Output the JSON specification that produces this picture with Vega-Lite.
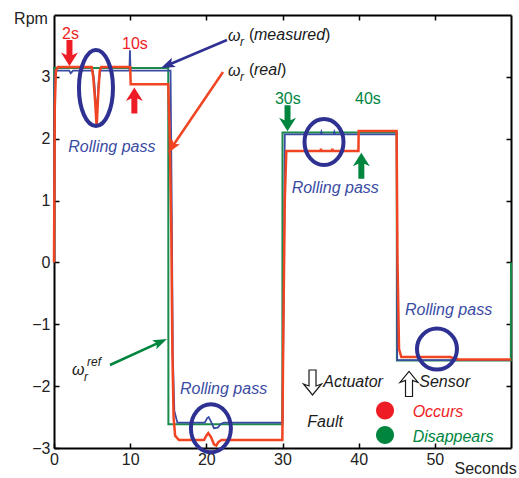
{
  "$schema": "https://vega.github.io/schema/vega-lite/v6.json",
  "width": 457,
  "height": 433,
  "autosize": {"type": "none"},
  "padding": {"left": 54, "top": 15, "right": 8, "bottom": 30},
  "config": {
    "view": {"stroke": null},
    "font": "Liberation Sans",
    "axis": {
      "grid": false,
      "domainColor": "#000",
      "domainWidth": 2,
      "tickColor": "#000",
      "tickWidth": 1.5,
      "tickSize": -5,
      "labelFont": "Liberation Sans",
      "labelFontSize": 16,
      "labelColor": "#222",
      "labelFlush": false,
      "labelOverlap": false,
      "titleFont": "Liberation Sans",
      "titleFontSize": 16,
      "titleFontWeight": "normal",
      "titleColor": "#222"
    }
  },
  "datasets": {
    "lines": [
      {"c":"ref","t":0,"v":0},{"c":"ref","t":0.02,"v":3.145},{"c":"ref","t":15.0,"v":3.145},{"c":"ref","t":15.02,"v":-2.615},{"c":"ref","t":29.98,"v":-2.615},{"c":"ref","t":30.0,"v":2.10},{"c":"ref","t":45.0,"v":2.10},{"c":"ref","t":45.02,"v":-1.585},{"c":"ref","t":59.98,"v":-1.585},{"c":"ref","t":60,"v":0},
      {"c":"measured","t":0,"v":0},{"c":"measured","t":0.05,"v":2.9},{"c":"measured","t":0.15,"v":3.1},{"c":"measured","t":2.0,"v":3.1},{"c":"measured","t":2.2,"v":3.06},{"c":"measured","t":2.5,"v":3.1},{"c":"measured","t":5.1,"v":3.1},{"c":"measured","t":5.3,"v":2.9},{"c":"measured","t":5.6,"v":2.35},{"c":"measured","t":5.85,"v":2.9},{"c":"measured","t":6.1,"v":3.1},{"c":"measured","t":9.9,"v":3.1},{"c":"measured","t":9.97,"v":3.43},{"c":"measured","t":10.05,"v":3.1},{"c":"measured","t":15.3,"v":3.1},{"c":"measured","t":15.45,"v":1.0},{"c":"measured","t":15.6,"v":-1.5},{"c":"measured","t":15.8,"v":-2.4},{"c":"measured","t":16.2,"v":-2.59},{"c":"measured","t":19.8,"v":-2.59},{"c":"measured","t":20.1,"v":-2.52},{"c":"measured","t":20.3,"v":-2.5},{"c":"measured","t":20.6,"v":-2.57},{"c":"measured","t":21.0,"v":-2.68},{"c":"measured","t":21.5,"v":-2.67},{"c":"measured","t":21.9,"v":-2.61},{"c":"measured","t":22.3,"v":-2.59},{"c":"measured","t":30.0,"v":-2.59},{"c":"measured","t":30.2,"v":0},{"c":"measured","t":30.3,"v":2.07},{"c":"measured","t":35.0,"v":2.07},{"c":"measured","t":35.1,"v":2.11},{"c":"measured","t":35.2,"v":2.07},{"c":"measured","t":36.7,"v":2.07},{"c":"measured","t":36.8,"v":2.11},{"c":"measured","t":36.9,"v":2.07},{"c":"measured","t":45.0,"v":2.07},{"c":"measured","t":45.06,"v":-1.58},{"c":"measured","t":60,"v":-1.58},
      {"c":"real","t":0,"v":0},{"c":"real","t":0.1,"v":2.5},{"c":"real","t":0.25,"v":3.1},{"c":"real","t":0.5,"v":3.16},{"c":"real","t":4.95,"v":3.16},{"c":"real","t":5.15,"v":3.0},{"c":"real","t":5.4,"v":2.6},{"c":"real","t":5.6,"v":2.2},{"c":"real","t":5.8,"v":2.7},{"c":"real","t":6.0,"v":3.1},{"c":"real","t":6.2,"v":3.16},{"c":"real","t":10.0,"v":3.16},{"c":"real","t":10.07,"v":2.88},{"c":"real","t":15.0,"v":2.88},{"c":"real","t":15.2,"v":2.0},{"c":"real","t":15.4,"v":0.5},{"c":"real","t":15.55,"v":-1.5},{"c":"real","t":15.7,"v":-2.5},{"c":"real","t":15.9,"v":-2.8},{"c":"real","t":16.4,"v":-2.87},{"c":"real","t":19.7,"v":-2.87},{"c":"real","t":20.0,"v":-2.8},{"c":"real","t":20.25,"v":-2.76},{"c":"real","t":20.6,"v":-2.82},{"c":"real","t":21.0,"v":-2.94},{"c":"real","t":21.3,"v":-2.96},{"c":"real","t":21.6,"v":-2.9},{"c":"real","t":22.0,"v":-2.87},{"c":"real","t":29.98,"v":-2.87},{"c":"real","t":30.1,"v":-1.2},{"c":"real","t":30.3,"v":1.0},{"c":"real","t":30.5,"v":1.8},{"c":"real","t":35.0,"v":1.8},{"c":"real","t":35.05,"v":1.84},{"c":"real","t":35.1,"v":1.8},{"c":"real","t":36.5,"v":1.8},{"c":"real","t":36.55,"v":1.84},{"c":"real","t":36.6,"v":1.8},{"c":"real","t":39.97,"v":1.8},{"c":"real","t":40.0,"v":2.125},{"c":"real","t":44.98,"v":2.125},{"c":"real","t":45.1,"v":0},{"c":"real","t":45.3,"v":-1.4},{"c":"real","t":45.6,"v":-1.53},{"c":"real","t":52.0,"v":-1.53},{"c":"real","t":53.0,"v":-1.57},{"c":"real","t":60,"v":-1.57}
    ],
    "ptr": [
      {"c":"ring","t":22.71,"v":3.596,"t2":14.89,"v2":3.188},
      {"c":"real","t":22.19,"v":3.079,"t2":15.48,"v2":1.863},
      {"c":"disappears","t":7.35,"v":-1.658,"t2":14.0,"v2":-1.285}
    ],
    "marks": [
      {"k":"down","c":"occurs","t":2.03,"v":3.386,"a":0},
      {"k":"up","c":"occurs","t":10.55,"v":2.618,"a":0},
      {"k":"down","c":"disappears","t":30.66,"v":2.33,"a":0},
      {"k":"up","c":"disappears","t":40.35,"v":1.562,"a":0},
      {"k":"dot","c":"occurs","t":43.46,"v":-2.394,"a":0},
      {"k":"dot","c":"disappears","t":43.46,"v":-2.79,"a":0},
      {"k":"head","c":"ring","t":14.89,"v":3.188,"a":246.6},
      {"k":"head","c":"real","t":15.48,"v":1.863,"a":214.2},
      {"k":"head","c":"disappears","t":14.0,"v":-1.285,"a":65.5},
      {"k":"hdown","c":"ink","t":33.94,"v":-1.941,"a":0},
      {"k":"hup","c":"ink","t":46.61,"v":-1.965,"a":0},
      {"k":"ring1","c":"ring","t":5.51,"v":2.82,"a":0},
      {"k":"ring2","c":"ring","t":35.45,"v":1.947,"a":0},
      {"k":"ring3","c":"ring","t":50.28,"v":-1.4,"a":0},
      {"k":"ring4","c":"ring","t":20.6,"v":-2.68,"a":0}
    ],
    "texts": [
      {"r":"label","s":"Rolling pass","c":"measured","t":1.88,"v":1.785},
      {"r":"label","s":"Rolling pass","c":"measured","t":31.2,"v":1.117},
      {"r":"label","s":"Rolling pass","c":"measured","t":46.08,"v":-0.85},
      {"r":"label","s":"Rolling pass","c":"measured","t":16.54,"v":-2.127},
      {"r":"label","s":"measured","c":"ink","t":26.26,"v":3.596},
      {"r":"label","s":"real","c":"ink","t":26.26,"v":3.03},
      {"r":"label","s":"ω","c":"ink","t":22.84,"v":3.58},
      {"r":"label","s":"ω","c":"ink","t":22.84,"v":3.014},
      {"r":"label","s":"ω","c":"ink","t":2.36,"v":-1.82},
      {"r":"label","s":"Actuator","c":"ink","t":35.36,"v":-2.019},
      {"r":"label","s":"Sensor","c":"ink","t":47.96,"v":-2.019},
      {"r":"label","s":"Fault","c":"ink","t":33.26,"v":-2.656},
      {"r":"label","s":"Occurs","c":"occurs","t":47.09,"v":-2.504},
      {"r":"label","s":"Disappears","c":"disappears","t":47.09,"v":-2.898},
      {"r":"sub","s":"r","c":"ink","t":24.42,"v":3.499},
      {"r":"sub","s":"r","c":"ink","t":24.42,"v":2.933},
      {"r":"sub","s":"r","c":"ink","t":3.94,"v":-1.917},
      {"r":"sub","s":"ref","c":"ink","t":4.33,"v":-1.674},
      {"r":"plain","s":"(","c":"ink","t":25.6,"v":3.596},
      {"r":"plain","s":")","c":"ink","t":35.58,"v":3.596},
      {"r":"plain","s":"(","c":"ink","t":25.6,"v":3.03},
      {"r":"plain","s":")","c":"ink","t":29.8,"v":3.03},
      {"r":"plain","s":"2s","c":"occurs","t":1.05,"v":3.607},
      {"r":"plain","s":"10s","c":"occurs","t":8.93,"v":3.445},
      {"r":"plain","s":"30s","c":"disappears","t":29.01,"v":2.561},
      {"r":"plain","s":"40s","c":"disappears","t":39.52,"v":2.561}
    ]
  },
  "layer": [
    {
      "data": {"name": "lines"},
      "transform": [{"filter": "datum.c == 'ref'"}],
      "mark": {"type": "line", "strokeWidth": 2, "interpolate": "linear"},
      "encoding": {
        "x": {"field": "t", "type": "quantitative", "scale": {"domain": [0, 60], "nice": false, "zero": false},
              "axis": {"orient": "bottom", "values": [0, 10, 20, 30, 40, 50], "labelPadding": 8, "title": "Seconds", "titleX": 400, "titleY": 25, "titleAlign": "left", "titleBaseline": "alphabetic", "titleAnchor": null}},
        "y": {"field": "v", "type": "quantitative", "scale": {"domain": [-3, 4], "nice": false, "zero": false},
              "axis": {"orient": "left", "values": [-3, -2, -1, 0, 1, 2, 3], "labelPadding": 9, "title": "Rpm", "titleAngle": 0, "titleX": -23.5, "titleY": 8, "titleAlign": "center", "titleBaseline": "alphabetic", "titleAnchor": null}},
        "color": {"field": "c", "type": "nominal", "legend": null,
                  "scale": {"domain": ["ref", "measured", "real", "occurs", "disappears", "ink", "ring"], "range": ["#1b8a4b", "#3a4ba3", "#f04423", "#ee1d25", "#00853f", "#1a1a1a", "#2e3192"]}}
      }
    },
    {
      "data": {"name": "lines"},
      "transform": [{"filter": "datum.c == 'measured'"}],
      "mark": {"type": "line", "strokeWidth": 1.8, "interpolate": "linear"},
      "encoding": {
        "x": {"field": "t", "type": "quantitative", "scale": {"domain": [0, 60], "nice": false, "zero": false},
              "axis": {"orient": "top", "values": [10, 20, 30, 40, 50], "labels": false, "title": null}},
        "y": {"field": "v", "type": "quantitative", "scale": {"domain": [-3, 4], "nice": false, "zero": false},
              "axis": {"orient": "right", "values": [-2, -1, 0, 1, 2, 3], "labels": false, "title": null}},
        "color": {"field": "c", "type": "nominal", "legend": null,
                  "scale": {"domain": ["ref", "measured", "real", "occurs", "disappears", "ink", "ring"], "range": ["#1b8a4b", "#3a4ba3", "#f04423", "#ee1d25", "#00853f", "#1a1a1a", "#2e3192"]}}
      }
    },
    {
      "data": {"name": "lines"},
      "transform": [{"filter": "datum.c == 'real'"}],
      "mark": {"type": "line", "strokeWidth": 2.5, "interpolate": "linear"},
      "encoding": {
        "x": {"field": "t", "type": "quantitative", "axis": null},
        "y": {"field": "v", "type": "quantitative", "axis": null},
        "color": {"field": "c", "type": "nominal", "legend": null}
      }
    },
    {
      "data": {"name": "marks"},
      "transform": [{"filter": "indexof(['ring1','ring2','ring3','ring4'], datum.k) >= 0"}],
      "mark": {"type": "point", "filled": false, "strokeWidth": 4, "opacity": 1, "size": 4},
      "encoding": {
        "x": {"field": "t", "type": "quantitative", "axis": null},
        "y": {"field": "v", "type": "quantitative", "axis": null},
        "color": {"field": "c", "type": "nominal", "legend": null},
        "shape": {"field": "k", "type": "nominal", "legend": null,
                  "scale": {"domain": ["down", "up", "head", "dot", "hdown", "hup", "ring1", "ring2", "ring3", "ring4"],
                            "range": ["M-3,-13L3,-13L3,2L8.5,-0.5L0,13L-8.5,-0.5L-3,2Z", "M-3,13L3,13L3,-2L8.5,0.5L0,-13L-8.5,0.5L-3,-2Z", "M0,-7L5,7L0,4L-5,7Z", "M-9,0A9,9 0 1,0 9,0A9,9 0 1,0 -9,0Z", "M-3.5,-12.5L3.5,-12.5L3.5,3.5L9,1.5L0,12.5L-9,1.5L-3.5,3.5Z", "M-3.5,12.5L3.5,12.5L3.5,-3.5L9,-1.5L0,-12.5L-9,-1.5L-3.5,-3.5Z", "M-17,0A17,38 0 1,0 17,0A17,38 0 1,0 -17,0Z", "M-19.5,0A19.5,23 0 1,0 19.5,0A19.5,23 0 1,0 -19.5,0Z", "M-20,0A20,20.5 0 1,0 20,0A20,20.5 0 1,0 -20,0Z", "M-20,0A20,24 0 1,0 20,0A20,24 0 1,0 -20,0Z"]}}
      }
    },
    {
      "data": {"name": "ptr"},
      "mark": {"type": "rule", "strokeWidth": 2.5},
      "encoding": {
        "x": {"field": "t", "type": "quantitative", "axis": null},
        "y": {"field": "v", "type": "quantitative", "axis": null},
        "x2": {"field": "t2"},
        "y2": {"field": "v2"},
        "color": {"field": "c", "type": "nominal", "legend": null}
      }
    },
    {
      "data": {"name": "marks"},
      "transform": [{"filter": "indexof(['down','up','head','dot'], datum.k) >= 0"}],
      "mark": {"type": "point", "filled": true, "strokeWidth": 0, "opacity": 1, "size": 4},
      "encoding": {
        "x": {"field": "t", "type": "quantitative", "axis": null},
        "y": {"field": "v", "type": "quantitative", "axis": null},
        "color": {"field": "c", "type": "nominal", "legend": null},
        "shape": {"field": "k", "type": "nominal", "legend": null},
        "angle": {"field": "a", "type": "quantitative", "scale": {"domain": [0, 360], "range": [0, 360]}}
      }
    },
    {
      "data": {"name": "marks"},
      "transform": [{"filter": "indexof(['hdown','hup'], datum.k) >= 0"}],
      "mark": {"type": "point", "filled": true, "fill": "#ffffff", "stroke": "#1a1a1a", "strokeWidth": 1.2, "opacity": 1, "size": 4},
      "encoding": {
        "x": {"field": "t", "type": "quantitative", "axis": null},
        "y": {"field": "v", "type": "quantitative", "axis": null},
        "shape": {"field": "k", "type": "nominal", "legend": null}
      }
    },
    {
      "data": {"name": "texts"},
      "transform": [{"filter": "datum.r == 'label'"}],
      "mark": {"type": "text", "align": "left", "baseline": "alphabetic", "font": "Liberation Sans", "fontStyle": "italic", "fontSize": 16},
      "encoding": {
        "x": {"field": "t", "type": "quantitative", "axis": null},
        "y": {"field": "v", "type": "quantitative", "axis": null},
        "text": {"field": "s"},
        "color": {"field": "c", "type": "nominal", "legend": null}
      }
    },
    {
      "data": {"name": "texts"},
      "transform": [{"filter": "datum.r == 'sub'"}],
      "mark": {"type": "text", "align": "left", "baseline": "alphabetic", "font": "Liberation Sans", "fontStyle": "italic", "fontSize": 12},
      "encoding": {
        "x": {"field": "t", "type": "quantitative", "axis": null},
        "y": {"field": "v", "type": "quantitative", "axis": null},
        "text": {"field": "s"},
        "color": {"field": "c", "type": "nominal", "legend": null}
      }
    },
    {
      "data": {"name": "texts"},
      "transform": [{"filter": "datum.r == 'plain'"}],
      "mark": {"type": "text", "align": "left", "baseline": "alphabetic", "font": "Liberation Sans", "fontSize": 16},
      "encoding": {
        "x": {"field": "t", "type": "quantitative", "axis": null},
        "y": {"field": "v", "type": "quantitative", "axis": null},
        "text": {"field": "s"},
        "color": {"field": "c", "type": "nominal", "legend": null}
      }
    }
  ],
  "resolve": {"axis": {"x": "independent", "y": "independent"}}
}
